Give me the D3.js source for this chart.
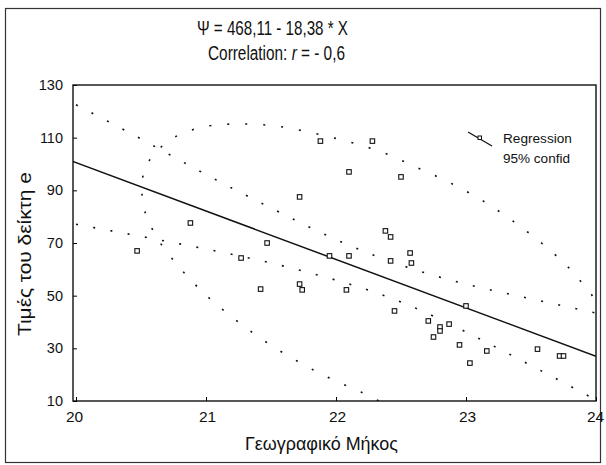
<!DOCTYPE html>
<html>
<head>
<meta charset="utf-8">
<script src="https://cdn.jsdelivr.net/npm/d3@7"></script>
<style>
  body { margin: 0; background: #fff; }
  svg text { font-family: "Liberation Sans", Arial, sans-serif; fill: #111; }
</style>
</head>
<body>
<svg id="chart" width="606" height="465"></svg>
<script>
/*
** DATA
*/
// Observations: longitude and index value
const pointX = [20.47, 20.88, 21.27, 21.42, 21.47, 21.72, 21.72, 21.74, 21.88, 21.95, 22.08,
  22.10, 22.10, 22.28, 22.38, 22.42, 22.42, 22.50, 22.57, 22.58, 22.45, 22.71, 22.80,
  22.80, 22.87, 22.75, 23.00, 22.95, 23.16, 23.03, 23.55, 23.72, 23.75];
const pointY = [67.0, 77.6, 64.3, 52.5, 70.0, 87.5, 54.4, 52.2, 108.7, 65.1, 52.2,
  97.0, 65.1, 108.7, 74.6, 72.3, 63.2, 95.1, 66.2, 62.4, 44.2, 40.4, 38.1,
  36.6, 39.2, 34.3, 46.1, 31.3, 29.0, 24.4, 29.7, 27.1, 27.1];

// Regression coefficients (from the title)
const regIntercept = 468.11;
const regSlope = -18.38;

// 95% confidence band
const bandX = [20, 20.5, 21, 21.5, 22, 22.5, 23, 23.5, 24];
const bandUpper = [122.5, 109.5, 96.0, 83.3, 71.3, 61.6, 54.4, 48.8, 43.4];
const bandLower = [77.1, 72.5, 67.7, 62.4, 55.9, 47.6, 36.2, 23.5, 10.4];

// Dotted ellipse (visible arc)
const ellipseX = [22.45, 22.21, 21.95, 21.70, 21.45, 21.22, 21.00, 20.80, 20.63, 20.52,
  20.53, 20.71, 20.97, 21.25, 21.54, 21.82, 22.10, 22.37, 22.63, 22.88, 23.13, 23.37,
  23.59, 23.80, 23.98, 24.07];
const ellipseY = [6.9, 13.0, 18.7, 25.2, 32.8, 41.1, 50.2, 60.5, 71.5, 84.0,
  98.1, 108.7, 114.0, 115.2, 114.4, 111.8, 108.4, 104.2, 98.5, 92.8, 86.0, 78.0,
  69.6, 60.1, 49.5, 44.2];

const xTicks = [20, 21, 22, 23, 24];
const yTicks = [10, 30, 50, 70, 90, 110, 130];

const titleLine1 = "Ψ = 468,11 - 18,38 * X";
const xLabel = "Γεωγραφικό Μήκος";
const yLabel = "Τιμές του δείκτη e";
const legendLabels = ["Regression", "95% confid"];

/*
** CHART
*/
drawChart();

function drawChart() {
  let svg = d3.select("#chart");
  let plot = { left: 73, right: 596, top: 85, bottom: 401 };

  let x = d3.scaleLinear().domain([20, 24]).range([76, 596]);
  let y = d3.scaleLinear().domain([10, 130]).range([plot.bottom, plot.top]);

  // outer frame
  svg.append("rect")
    .attr("x", 5.5).attr("y", 8.5)
    .attr("width", 595).attr("height", 454)
    .attr("fill", "none")
    .attr("stroke", "#333")
    .attr("stroke-width", 1.2);

  // titles (the original uses a narrow face, so squeeze to its width)
  let t1 = svg.append("g").attr("transform", "translate(197,35)");
  t1.append("text")
    .attr("font-size", 19.5)
    .text(titleLine1);
  narrow(t1, 151);

  let t2g = svg.append("g").attr("transform", "translate(208,60)");
  let t2 = t2g.append("text").attr("font-size", 19.5);
  t2.append("tspan").text("Correlation: ");
  t2.append("tspan").attr("font-style", "italic").text("r");
  t2.append("tspan").text(" = - 0,6");
  narrow(t2g, 137);

  svg.append("clipPath").attr("id", "plot-clip")
    .append("rect")
      .attr("x", plot.left).attr("y", plot.top)
      .attr("width", plot.right - plot.left)
      .attr("height", plot.bottom - plot.top);

  let inner = svg.append("g").attr("clip-path", "url(#plot-clip)");

  // dotted bands
  let bandLine = d3.line().curve(d3.curveNatural);
  [bandUpper, bandLower].forEach(vals => {
    inner.append("path")
      .attr("d", bandLine(bandX.map((v, i) => [x(v), y(vals[i])])))
      .attr("fill", "none")
      .attr("stroke", "#111")
      .attr("stroke-width", 1.6)
      .attr("stroke-dasharray", "2,15.5");
  });

  inner.append("path")
    .attr("d", d3.line().curve(d3.curveCatmullRom)(ellipseX.map((v, i) => [x(v), y(ellipseY[i])])))
    .attr("fill", "none")
    .attr("stroke", "#111")
    .attr("stroke-width", 1.6)
    .attr("stroke-dasharray", "2,16");

  // regression line
  inner.append("line")
    .attr("x1", x(20) - 4).attr("y1", y(regIntercept + regSlope * (20 - 4 / 130)))
    .attr("x2", x(24)).attr("y2", y(regIntercept + regSlope * 24))
    .attr("stroke", "#111")
    .attr("stroke-width", 1.5);

  // points
  let s = 4.5;
  inner.selectAll(".pt")
    .data(pointX.map((v, i) => [v, pointY[i]]))
    .enter()
    .append("rect")
      .classed("pt", true)
      .attr("x", d => x(d[0]) - s / 2)
      .attr("y", d => y(d[1]) - s / 2)
      .attr("width", s).attr("height", s)
      .attr("fill", "#fff")
      .attr("stroke", "#111")
      .attr("stroke-width", 1.1);

  // plot frame
  svg.append("rect")
    .attr("x", plot.left).attr("y", plot.top)
    .attr("width", plot.right - plot.left)
    .attr("height", plot.bottom - plot.top)
    .attr("fill", "none")
    .attr("stroke", "#111")
    .attr("stroke-width", 1.4);

  // axes with inward ticks
  let xAxis = d3.axisBottom(x).tickValues(xTicks).tickFormat(d3.format("d"))
    .tickSizeInner(-4).tickSizeOuter(0).tickPadding(10);
  let gx = svg.append("g").attr("transform", `translate(0,${plot.bottom})`).call(xAxis);
  gx.select(".domain").remove();
  gx.selectAll("text").attr("font-size", 15.5).attr("fill", "#111")
    .style("font-family", "'Liberation Sans', Arial, sans-serif");
  // end labels sit a bit inside the frame in the original
  gx.selectAll(".tick text").attr("dx", d => d === 20 ? -2 : (d === 24 ? -1 : 1));

  let yAxis = d3.axisLeft(y).tickValues(yTicks).tickFormat(d3.format("d"))
    .tickSizeInner(-4).tickSizeOuter(0).tickPadding(10);
  let gy = svg.append("g").attr("transform", `translate(${plot.left},0)`).call(yAxis);
  gy.select(".domain").remove();
  gy.selectAll("text").attr("font-size", 14.5).attr("fill", "#111")
    .style("font-family", "'Liberation Sans', Arial, sans-serif");

  // axis titles
  let xl = svg.append("g").attr("transform", "translate(245,450)");
  xl.append("text").attr("font-size", 18).text(xLabel);
  narrow(xl, 153);

  let yl = svg.append("g").attr("transform", "translate(31,336) rotate(-90)");
  yl.append("text").attr("font-size", 18).text(yLabel);
  narrow(yl, 164);

  // legend
  let lg = svg.append("g");
  lg.append("line")
    .attr("x1", 468).attr("y1", 132).attr("x2", 492).attr("y2", 146)
    .attr("stroke", "#111").attr("stroke-width", 1.3);
  lg.append("rect")
    .attr("x", 478).attr("y", 136).attr("width", 3.5).attr("height", 3.5)
    .attr("fill", "#fff").attr("stroke", "#111");
  legendLabels.forEach((label, i) => {
    let g = lg.append("g").attr("transform", `translate(503,${143 + i * 20})`);
    g.append("text").attr("font-size", 13.5).text(label);
    narrow(g, i === 0 ? 69 : 67);
  });
}

// Squeeze a group holding one text to a target width (narrow face stand-in)
function narrow(g, width) {
  let node = g.select("text").node();
  let w = node.getComputedTextLength();
  let k = w > 0 ? width / w : 1;
  g.attr("transform", g.attr("transform") + ` scale(${k},1)`);
}
</script>
</body>
</html>
